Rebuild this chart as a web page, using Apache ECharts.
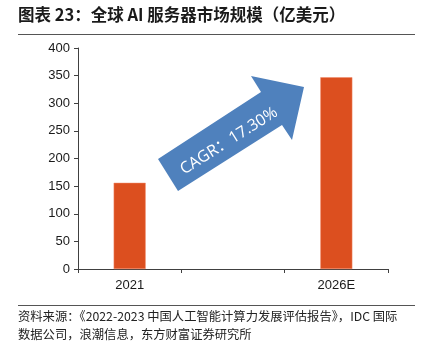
<!DOCTYPE html>
<html><head><meta charset="utf-8">
<script src="https://cdn.jsdelivr.net/npm/echarts@6/dist/echarts.min.js"></script>
<style>html,body{margin:0;padding:0;background:#fff}#c{width:424px;height:348px}</style>
</head><body><div id="c"></div>
<script>
const categories = ['2021', '', '2026E'];
const values = [156, null, 347];
const yTicks = [0, 50, 100, 150, 200, 250, 300, 350, 400];
const titleText = '图表 23：全球 AI 服务器市场规模（亿美元）';
const sourceLine1 = '资料来源：《2022-2023 中国人工智能计算力发展评估报告》，IDC 国际';
const sourceLine2 = '数据公司，浪潮信息，东方财富证券研究所';
const cagrText = 'CAGR：17.30%';

const chart = echarts.init(document.getElementById('c'), null, {renderer: 'canvas'});
const ang = 32.4 * Math.PI / 180;
chart.setOption({
  animation: false,
  backgroundColor: '#fff',
  grid: {left: 78, right: 36, top: 48, bottom: 79, containLabel: false},
  xAxis: {
    type: 'category', data: categories,
    axisLine: {lineStyle: {color: '#404040', width: 1}},
    axisTick: {show: true, alignWithLabel: false, length: 4, lineStyle: {color: '#404040'}},
    axisLabel: {color: '#1a1a1a', fontSize: 13, fontFamily: 'Liberation Sans, Arial', margin: 10}
  },
  yAxis: {
    type: 'value', min: yTicks[0], max: yTicks[yTicks.length - 1], interval: 50,
    axisLine: {show: true, lineStyle: {color: '#404040', width: 1}},
    axisTick: {show: true, length: 4, lineStyle: {color: '#404040'}},
    splitLine: {show: false},
    axisLabel: {color: '#1a1a1a', fontSize: 13, fontFamily: 'Liberation Sans, Arial', margin: 8}
  },
  series: [{
    type: 'bar', data: values, barWidth: 32,
    itemStyle: {color: '#dc4f1f', borderColor: '#f08a6a', borderWidth: 0.5}
  }],
  graphic: [
    {type: 'text', left: 18, top: 6, style: {text: titleText, font: 'bold 16.5px "Noto Sans CJK SC"', fill: '#1a1a1a'}},
    {type: 'line', shape: {x1: 18, y1: 34.5, x2: 415, y2: 34.5}, style: {stroke: '#555', lineWidth: 1.2}},
    {type: 'line', shape: {x1: 18, y1: 305.5, x2: 415, y2: 305.5}, style: {stroke: '#555', lineWidth: 1.2}},
    {type: 'text', left: 18, top: 310, style: {text: sourceLine1, font: '12.3px "Noto Sans CJK SC"', fill: '#222'}},
    {type: 'text', left: 18, top: 328, style: {text: sourceLine2, font: '12.3px "Noto Sans CJK SC"', fill: '#222'}},
    {type: 'polygon', shape: {points: [[178, 191], [158, 159], [261, 92], [251, 76], [304, 87], [292, 140], [282, 125]]},
      style: {fill: '#4f81bd'}},
    {type: 'text', x: 229, y: 141, rotation: ang,
      style: {text: cagrText, font: '16px "Open Sans", "Noto Sans CJK SC"', fill: '#fff', align: 'center', verticalAlign: 'middle'}}
  ]
});
</script></body></html>
